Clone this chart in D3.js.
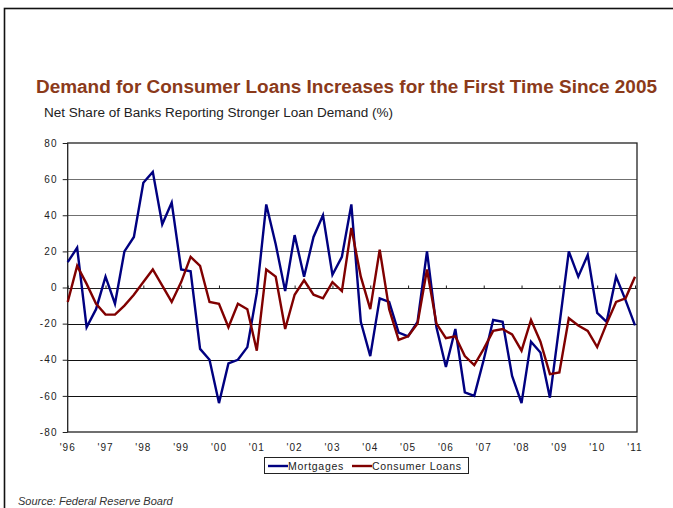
<!DOCTYPE html>
<html>
<head>
<meta charset="utf-8">
<script src="https://cdn.jsdelivr.net/npm/d3@7"></script>
<style>
  body { margin: 0; background: #fff; }
  svg { display: block; font-family: 'Liberation Sans', Arial, sans-serif; }
</style>
</head>
<body>
<script>
// quarterly survey readings, 1996 Q1 .. 2011 Q1
var mortgages = [14, 22, -22, -12, 6, -9, 20, 28, 58, 64, 35, 47, 10, 9, -34, -40,
  -64, -42, -40, -33, -3, 46, 24, -2, 29, 6, 28, 40, 7, 17, 46, -19,
  -38, -6, -8, -25, -27, -19, 20, -22, -44, -23, -58, -60, -40, -18, -19, -49,
  -64, -30, -36, -61, -21, 20, 6, 18, -14, -19, 6, -7, -21];
var consumerLoans = [-8, 12, 2, -9, -15, -15, -10, -4, 3, 10, 1, -8, 3, 17, 12, -8,
  -9, -22, -9, -12, -35, 10, 6, -23, -4, 4, -4, -6, 3, -2, 33, 6,
  -12, 21, -12, -29, -27, -20, 10, -20, -28, -27, -38, -43, -34, -24, -23, -26,
  -35, -18, -30, -48, -47, -17, -21, -24, -33, -20, -8, -6, 6];
var yearLabels = ["'96", "'97", "'98", "'99", "'00", "'01", "'02", "'03", "'04", "'05",
  "'06", "'07", "'08", "'09", "'10", "'11"];
var yTicks = [80, 60, 40, 20, 0, -20, -40, -60, -80];
var seriesNames = ['Mortgages', 'Consumer Loans'];

var width = 673, height = 508;
var plot = {left: 67.7, right: 637, top: 143, bottom: 432};

var svg = d3.select('body').append('svg')
  .attr('width', width)
  .attr('height', height);

// outer frame
svg.append('rect')
  .attr('x', 4.5).attr('y', 8.5)
  .attr('width', 720).attr('height', 600)
  .attr('fill', 'none')
  .attr('stroke', '#111')
  .attr('stroke-width', 1.6);

var x = d3.scaleLinear().domain([0, 60]).range([plot.left, 635]);
var y = d3.scaleLinear().domain([-80, 80]).range([plot.bottom, plot.top]);

svg.append('text')
  .attr('x', 36).attr('y', 93)
  .attr('fill', '#8b3a1a')
  .style('font-size', '17.5px')
  .style('font-weight', 'bold')
  .attr('textLength', 621)
  .attr('lengthAdjust', 'spacingAndGlyphs')
  .text('Demand for Consumer Loans Increases for the First Time Since 2005');

svg.append('text')
  .attr('x', 44).attr('y', 117)
  .attr('fill', '#222')
  .style('font-size', '12.5px')
  .attr('textLength', 349)
  .attr('lengthAdjust', 'spacingAndGlyphs')
  .text('Net Share of Banks Reporting Stronger Loan Demand (%)');

// gridlines
svg.append('g').selectAll('line')
  .data(yTicks.filter(function(d) { return d > -80 && d < 80 && d !== 0; }))
  .enter().append('line')
  .attr('x1', plot.left).attr('x2', plot.right)
  .attr('y1', function(d) { return Math.round(y(d)) + 0.5; })
  .attr('y2', function(d) { return Math.round(y(d)) + 0.5; })
  .attr('stroke', function(d) { return d > 0 ? '#707070' : '#111'; })
  .attr('stroke-width', 1);

// plot frame
svg.append('rect')
  .attr('x', plot.left).attr('y', plot.top)
  .attr('width', plot.right - plot.left)
  .attr('height', plot.bottom - plot.top)
  .attr('fill', 'none')
  .attr('stroke', '#222')
  .attr('stroke-width', 1.3);

var yAxis = d3.axisLeft(y)
  .tickValues(yTicks)
  .tickSize(5)
  .tickPadding(5)
  .tickFormat(function(d) { return d < 0 ? '-' + Math.abs(d) : d; });

var gy = svg.append('g')
  .attr('transform', 'translate(' + plot.left + ',0)')
  .call(yAxis);
gy.select('.domain').remove();
gy.selectAll('line').attr('stroke', '#222');
gy.selectAll('text')
  .attr('fill', '#222')
  .style('font-size', '10px')
  .style('letter-spacing', '1.2px')
  .style('font-family', "'Liberation Sans', Arial, sans-serif");

// category axis sits on zero
var xAxis = d3.axisTop(x)
  .tickValues(d3.range(0, 61, 4))
  .tickSize(3)
  .tickFormat('');
var gx = svg.append('g')
  .attr('transform', 'translate(0,' + (Math.round(y(0)) + 0.5) + ')')
  .call(xAxis);
gx.select('.domain').attr('stroke', '#222').attr('d', 'M' + plot.left + ',0H' + plot.right);
gx.selectAll('line').attr('stroke', '#222');

svg.append('g').selectAll('text')
  .data(yearLabels)
  .enter().append('text')
  .attr('x', function(d, i) { return x(i * 4); })
  .attr('y', 450.5)
  .attr('text-anchor', 'middle')
  .attr('fill', '#222')
  .style('font-size', '10px')
  .style('letter-spacing', '1px')
  .text(function(d) { return d; });

var line = d3.line()
  .x(function(d, i) { return x(i); })
  .y(function(d) { return y(d); });

var colors = ['#000080', '#800000'];
[mortgages, consumerLoans].forEach(function(series, k) {
  svg.append('path')
    .datum(series)
    .attr('d', line)
    .attr('fill', 'none')
    .attr('stroke', colors[k])
    .attr('stroke-width', 2.4)
    .attr('stroke-linejoin', 'miter');
});

// legend
var legend = svg.append('g');
legend.append('rect')
  .attr('x', 264.5).attr('y', 457.5)
  .attr('width', 204).attr('height', 16)
  .attr('fill', '#fff')
  .attr('stroke', '#222');
var legendX = [268, 352];
seriesNames.forEach(function(name, k) {
  legend.append('line')
    .attr('x1', legendX[k]).attr('x2', legendX[k] + 20)
    .attr('y1', 466).attr('y2', 466)
    .attr('stroke', colors[k])
    .attr('stroke-width', 2.4);
  legend.append('text')
    .attr('x', legendX[k] + 20).attr('y', 470)
    .attr('fill', '#222')
    .style('font-size', '10.5px')
    .style('letter-spacing', '0.7px')
    .text(name);
});

svg.append('text')
  .attr('x', 18).attr('y', 505)
  .attr('fill', '#333')
  .style('font-size', '11px')
  .style('font-style', 'italic')
  .text('Source: Federal Reserve Board');
</script>
</body>
</html>
